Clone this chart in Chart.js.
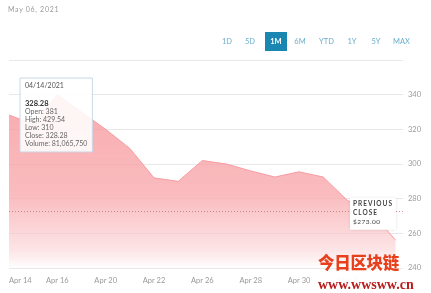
<!DOCTYPE html>
<html>
<head>
<meta charset="utf-8">
<script src="https://cdn.jsdelivr.net/npm/chart.js@4.4.0/dist/chart.umd.min.js"></script>
<style>
  body { margin: 0; background: #fff; font-family: Lato, "Open Sans", sans-serif; }
  #wrap { position: relative; width: 431px; height: 293px; overflow: hidden; }
  #chart { position: absolute; left: 0; top: 0; }
  .date { position: absolute; left: 8px; top: 5px; font-size: 7px; color: #9a9a9a; letter-spacing: 0.7px; }
  .btn { position: absolute; top: 32px; height: 19px; line-height: 19px; font-size: 7.5px; color: #6aaecb; text-align: center; }
  .btn.on { background: #1a87b2; color: #fff; font-weight: bold; }
  .wm1 { position: absolute; left: 318px; top: 250px; font-family: "Noto Sans CJK SC", sans-serif; font-weight: 900; font-size: 16.5px; color: #e8401c; letter-spacing: -0.3px; }
  .wm2 { position: absolute; left: 316px; top: 277px; padding: 0 2px; background: rgba(255,255,255,0.92); font-family: "Liberation Serif", serif; font-weight: bold; font-size: 14px; color: #b81d1d; line-height: 16px; }
</style>
</head>
<body>
<div id="wrap">
  <canvas id="chart" width="431" height="293"></canvas>
  <div class="date">May 06, 2021</div>
  <div class="btn" style="left:220px;width:14px">1D</div>
  <div class="btn" style="left:243px;width:14px">5D</div>
  <div class="btn on" style="left:265px;width:22px">1M</div>
  <div class="btn" style="left:293px;width:14px">6M</div>
  <div class="btn" style="left:317px;width:19px">YTD</div>
  <div class="btn" style="left:345px;width:14px">1Y</div>
  <div class="btn" style="left:369px;width:14px">5Y</div>
  <div class="btn" style="left:392px;width:19px">MAX</div>
  <div class="wm1">今日区块链</div>
  <div class="wm2">www.wwsww.cn</div>
</div>
<script>
// COIN, 1M view
const dates = ['Apr 14', 'Apr 15', 'Apr 16', 'Apr 19', 'Apr 20', 'Apr 21', 'Apr 22', 'Apr 23',
  'Apr 26', 'Apr 27', 'Apr 28', 'Apr 29', 'Apr 30', 'May 3', 'May 4', 'May 5', 'May 6'];
const closes = [328.28, 323, 340, 330, 320, 309, 292, 290, 302, 300, 296, 292.5, 295.5, 292.5, 279, 272, 256];
const labelIdx = [0, 2, 4, 6, 8, 10, 12, 14];
const yTicks = [240, 260, 280, 300, 320, 340, 360];
const prevClose = 273.00;

const tipTitle = '04/14/2021';
const tipPrice = '328.28';
const tipLines = ['Open: 381', 'High: 429.54', 'Low: 310', 'Close: 328.28', 'Volume: 81,065,750'];

const points = closes.map((v, i) => ({ x: i, y: v }));

const prevClosePlugin = {
  id: 'prevClose',
  afterDatasetsDraw(chart) {
    const { ctx, chartArea } = chart;
    const y = chart.scales.y.getPixelForValue(prevClose);
    ctx.save();
    ctx.strokeStyle = 'rgba(190,110,115,0.75)';
    ctx.lineWidth = 1;
    ctx.setLineDash([1, 2]);
    ctx.beginPath();
    ctx.moveTo(chartArea.left, Math.round(y) + 0.5);
    ctx.lineTo(chartArea.right, Math.round(y) + 0.5);
    ctx.stroke();
    ctx.setLineDash([]);

    const bx = chartArea.right - 53, by = y - 13, bw = 46, bh = 32;
    ctx.shadowColor = 'rgba(0,0,0,0.18)';
    ctx.shadowBlur = 3;
    ctx.fillStyle = '#fff';
    ctx.fillRect(bx, by, bw, bh);
    ctx.shadowBlur = 0;
    ctx.fillStyle = '#444';
    ctx.font = 'bold 6.5px Lato, sans-serif';
    ctx.letterSpacing = '1px';
    ctx.textBaseline = 'middle';
    ctx.fillText('PREVIOUS', bx + 3, by + 6.5);
    ctx.fillText('CLOSE', bx + 3, by + 15.5);
    ctx.letterSpacing = '0.5px';
    ctx.font = '6.5px Lato, sans-serif';
    ctx.fillText('$' + prevClose.toFixed(2), bx + 3, by + 24.5);
    ctx.restore();
  }
};

const chart = new Chart(document.getElementById('chart'), {
  type: 'line',
  data: {
    datasets: [{
      data: points,
      borderColor: 'rgba(246,150,155,0.9)',
      borderWidth: 1,
      tension: 0,
      pointRadius: 0,
      fill: 'start',
      backgroundColor: (context) => {
        const { ctx, chartArea } = context.chart;
        if (!chartArea) return 'rgba(246,160,165,0.7)';
        const g = ctx.createLinearGradient(0, chartArea.top, 0, chartArea.bottom);
        g.addColorStop(0, 'rgba(246,145,150,0.82)');
        g.addColorStop(0.65, 'rgba(248,165,169,0.75)');
        g.addColorStop(0.88, 'rgba(251,205,208,0.65)');
        g.addColorStop(1, 'rgba(255,255,255,0.9)');
        return g;
      }
    }]
  },
  options: {
    responsive: false,
    animation: false,
    layout: { padding: { top: 60, left: 9, right: 5, bottom: 7 } },
    plugins: {
      legend: { display: false },
      tooltip: {
        enabled: true,
        xAlign: 'left',
        yAlign: 'center',
        caretSize: 0,
        caretPadding: 11,
        backgroundColor: 'rgba(255,255,255,0.88)',
        borderColor: '#c9d9e6',
        borderWidth: 1,
        cornerRadius: 0,
        displayColors: false,
        padding: { top: 4, bottom: 4, left: 5, right: 5 },
        titleColor: '#555',
        titleFont: { family: 'Lato', size: 7, weight: 'normal', lineHeight: 1.15 },
        titleMarginBottom: 9,
        bodyColor: '#333',
        bodyFont: { family: 'Lato', size: 7.5, weight: 'bold', lineHeight: 1.15 },
        footerColor: '#666',
        footerFont: { family: 'Lato', size: 7, weight: 'normal', lineHeight: 1.15 },
        footerSpacing: 0,
        footerMarginTop: 0,
        callbacks: {
          title: () => tipTitle,
          label: () => tipPrice,
          footer: () => tipLines
        }
      }
    },
    scales: {
      x: {
        type: 'linear',
        min: 0,
        max: 16.3,
        afterBuildTicks: (s) => { s.ticks = labelIdx.concat([16]).map(v => ({ value: v })); },
        afterFit: (s) => { s.height = 18; },
        grid: { display: false, drawTicks: false, tickLength: 0 },
        border: { display: false },
        ticks: {
          align: 'inner',
          padding: 8,
          color: '#9a9a9a',
          font: { family: 'Lato', size: 7.5 },
          maxRotation: 0,
          autoSkip: false,
          callback: (v) => labelIdx.includes(v) ? dates[v] : ''
        }
      },
      y: {
        position: 'right',
        min: 240,
        max: 360,
        afterBuildTicks: (s) => { s.ticks = yTicks.map(v => ({ value: v })); },
        grid: { color: '#e8e8e8', drawTicks: false },
        border: { display: false },
        ticks: {
          padding: 5,
          color: '#9a9a9a',
          font: { family: 'Lato', size: 7.5 },
          callback: (v) => v === 360 ? '' : v
        }
      }
    }
  },
  plugins: [prevClosePlugin]
});

chart.tooltip.setActiveElements([{ datasetIndex: 0, index: 0 }], { x: 9, y: 118 });
chart.update();
</script>
</body>
</html>
